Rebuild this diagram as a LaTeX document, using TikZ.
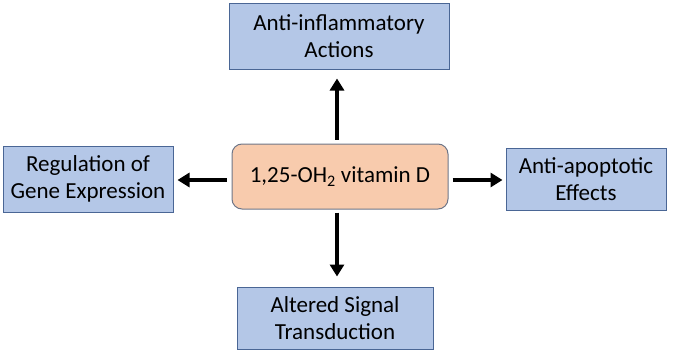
\documentclass[tikz,border=0pt]{standalone}
\usepackage{fontspec}
\setmainfont{Carlito}
\usetikzlibrary{arrows.meta}
\definecolor{boxblue}{HTML}{B4C7E7}
\definecolor{boxblueedge}{HTML}{4A6695}
\definecolor{boxorange}{HTML}{F8CBAD}
\definecolor{boxorangeedge}{HTML}{6E7688}
\begin{document}
\begin{tikzpicture}[x=1pt,y=-1pt,
  bluebox/.style={draw=boxblueedge,fill=boxblue,line width=1pt,align=center,font=\fontsize{23}{27}\selectfont,inner sep=0pt},
  centerbox/.style={draw=boxorangeedge,fill=boxorange,line width=1pt,rounded corners=10pt,align=center,font=\fontsize{23}{27}\selectfont,inner sep=0pt},
  arr/.style={line width=4.5pt,-{Triangle[length=12pt,width=14pt]}}]
\useasboundingbox (0,0) rectangle (680,364);
\node[centerbox,minimum width=216pt,minimum height=65pt] (c) at (340,176.5) {1,25-OH\textsubscript{2} vitamin D};
\node[bluebox,minimum width=220pt,minimum height=66pt] (t) at (339,36) {Anti-inflammatory\\Actions};
\node[bluebox,minimum width=170pt,minimum height=66pt] (l) at (88,179) {Regulation of\\Gene Expression};
\node[bluebox,minimum width=160pt,minimum height=62pt] (r) at (586,179) {Anti-apoptotic\\Effects};
\node[bluebox,minimum width=196pt,minimum height=62pt] (b) at (335,318) {Altered Signal\\Transduction};
\draw[arr] ([yshift=4pt]c.north -| 337,0) -- ([yshift=-9pt]t.south -| 337,0);
\draw[arr] ([xshift=-5pt]c.west |- 0,180) -- ([xshift=4pt]l.east |- 0,180);
\draw[arr] ([xshift=4pt]c.east |- 0,180) -- ([xshift=-3pt]r.west |- 0,180);
\draw[arr] ([yshift=-3pt]c.south -| 337,0) -- ([yshift=10pt]b.north -| 337,0);
\end{tikzpicture}
\end{document}
